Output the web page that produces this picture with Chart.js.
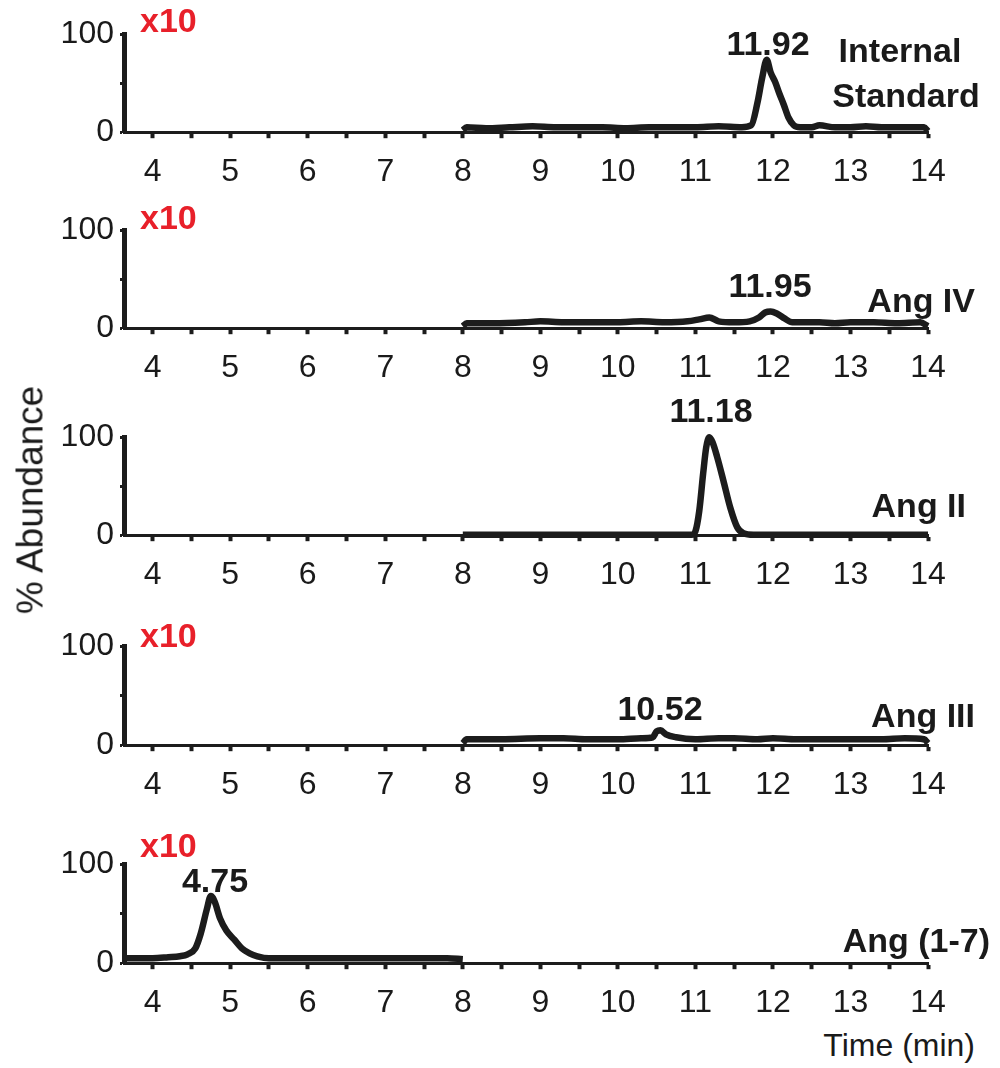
<!DOCTYPE html>
<html>
<head>
<meta charset="utf-8">
<script src="https://cdn.jsdelivr.net/npm/chart.js@4/dist/chart.umd.min.js"></script>
<style>
  html, body { margin: 0; padding: 0; background: #fff; }
  #page { position: relative; width: 1000px; height: 1068px; overflow: hidden; font-family: "Liberation Sans", Arial, sans-serif; }
  .panel { position: absolute; left: 0; width: 1000px; }
  .lbl { position: absolute; white-space: nowrap; line-height: 1; color: #1a1a1a; }
  .b { font-weight: bold; font-size: 34px; }
  .red { color: #e8202a; }
</style>
</head>
<body>
<div id="page"></div>
<script>
// ---------- data ----------
const xTickValues = [4, 4.5, 5, 5.5, 6, 6.5, 7, 7.5, 8, 8.5, 9, 9.5, 10, 10.5, 11, 11.5, 12, 12.5, 13, 13.5, 14];
const yTickValues = [0, 50, 100];
const panelNames = ['Internal\nStandard', 'Ang IV', 'Ang II', 'Ang III', 'Ang (1-7)'];
const peakLabels = ['11.92', '11.95', '11.18', '10.52', '4.75'];
const scaleLabels = ['x10', 'x10', '', 'x10', 'x10'];

// Internal Standard (x10)
const isTime = [8.0, 8.05, 8.3, 8.6, 8.9, 9.2, 9.5, 9.8, 10.1, 10.4, 10.7, 11.0, 11.3, 11.6, 11.72, 11.8, 11.86, 11.92, 11.97, 12.03, 12.08, 12.14, 12.2, 12.27, 12.35, 12.5, 12.6, 12.8, 13.0, 13.2, 13.4, 13.6, 13.8, 13.95, 14.0];
const isAbund = [2, 5, 4, 5, 6, 5, 5, 5, 4, 5, 5, 5, 6, 5, 7, 30, 55, 74, 61, 51, 40, 28, 15, 7, 5, 5, 7, 5, 5, 6, 5, 5, 5, 5, 1];

// Ang IV (x10)
const ang4Time = [8.0, 8.05, 8.4, 8.8, 9.0, 9.3, 9.6, 10.0, 10.3, 10.6, 10.9, 11.05, 11.18, 11.3, 11.5, 11.7, 11.82, 11.9, 11.97, 12.05, 12.15, 12.25, 12.4, 12.6, 12.8, 13.0, 13.3, 13.6, 13.9, 14.0];
const ang4Abund = [2, 5, 5, 6, 7, 6, 6, 6, 7, 6, 7, 9, 11, 7, 6, 7, 11, 16, 17, 15, 10, 6, 6, 6, 5, 6, 6, 5, 6, 2];

// Ang II
const ang2Time = [8.0, 10.0, 10.95, 11.0, 11.05, 11.1, 11.14, 11.18, 11.22, 11.28, 11.36, 11.45, 11.54, 11.62, 11.75, 12.5, 14.0];
const ang2Abund = [0.5, 0.5, 0.5, 4, 25, 63, 90, 100, 95, 80, 56, 28, 8, 2, 0.5, 0.5, 0.5];

// Ang III (x10)
const ang3Time = [8.0, 8.05, 8.5, 9.0, 9.3, 9.6, 10.0, 10.3, 10.45, 10.5, 10.55, 10.62, 10.75, 11.0, 11.3, 11.5, 11.8, 12.0, 12.3, 12.6, 13.0, 13.4, 13.7, 13.95, 14.0];
const ang3Abund = [2, 6, 6, 7, 7, 6, 6, 7, 8, 14, 15, 11, 8, 6, 7, 7, 6, 7, 6, 6, 6, 6, 7, 6, 2];

// Ang (1-7) (x10)
const ang17Time = [3.63, 3.8, 4.0, 4.2, 4.35, 4.45, 4.55, 4.62, 4.7, 4.75, 4.8, 4.87, 4.95, 5.05, 5.15, 5.25, 5.35, 5.5, 5.8, 6.1, 6.5, 7.0, 7.5, 7.8, 8.0];
const ang17Abund = [5, 5, 5, 6, 7, 9, 15, 30, 55, 68, 62, 45, 33, 24, 15, 10, 7, 5, 5, 5, 5, 5, 5, 5, 4];

const seriesTimes = [isTime, ang4Time, ang2Time, ang3Time, ang17Time];
const seriesAbund = [isAbund, ang4Abund, ang2Abund, ang3Abund, ang17Abund];

// ---------- layout ----------
const panelTop = [34, 230, 437, 646, 864];
const panelBottom = [132, 328, 535, 745, 963];
const X_MIN = 3.63, X_MAX = 14;
const AREA_LEFT = 124, AREA_RIGHT = 928;
const PAD_TOP = 8, XAXIS_H = 64;

const page = document.getElementById('page');
const tickFont = { family: '"Liberation Sans", Arial, sans-serif', size: 32 };

function addLabel(text, cls, left, top, align) {
  const d = document.createElement('div');
  d.className = 'lbl ' + cls;
  d.textContent = text;
  d.style.top = top + 'px';
  if (align === 'center') { d.style.left = left + 'px'; d.style.transform = 'translateX(-50%)'; d.style.textAlign = 'center'; }
  else if (align === 'right') { d.style.right = (1000 - left) + 'px'; d.style.textAlign = 'right'; }
  else { d.style.left = left + 'px'; }
  page.appendChild(d);
  return d;
}

for (let i = 0; i < 5; i++) {
  const panelH = panelBottom[i] - panelTop[i];
  const div = document.createElement('div');
  div.className = 'panel';
  div.style.top = (panelTop[i] - PAD_TOP) + 'px';
  div.style.height = (panelH + PAD_TOP + XAXIS_H) + 'px';
  const cv = document.createElement('canvas');
  div.appendChild(cv);
  page.appendChild(div);

  const pts = seriesTimes[i].map((t, k) => ({ x: t, y: seriesAbund[i][k] }));

  const chart = new Chart(cv, {
    type: 'line',
    data: { datasets: [{
      data: pts,
      borderColor: '#1c1c1c',
      borderWidth: 6.5,
      pointRadius: 0,
      cubicInterpolationMode: 'monotone',
      borderJoinStyle: 'round',
      clip: false
    }] },
    options: {
      responsive: true,
      maintainAspectRatio: false,
      animation: false,
      layout: { padding: { left: 0, right: 1000 - AREA_RIGHT, top: PAD_TOP, bottom: 0 } },
      plugins: { legend: { display: false }, tooltip: { enabled: false } },
      scales: {
        x: {
          type: 'linear', min: X_MIN, max: X_MAX,
          afterFit: (s) => { s.height = XAXIS_H; },
          afterBuildTicks: (s) => { s.ticks = xTickValues.map(v => ({ value: v })); },
          border: { display: true, color: '#1c1c1c', width: 3, dash: [6, 2] },
          grid: { drawOnChartArea: false, drawTicks: true, tickLength: 6, tickWidth: 4, tickColor: '#1c1c1c', color: '#1c1c1c' },
          ticks: {
            autoSkip: false, maxRotation: 0, padding: 15, color: '#1a1a1a', font: tickFont,
            callback: (v) => Number.isInteger(v) ? String(v) : ''
          }
        },
        y: {
          type: 'linear', min: 0, max: 100,
          afterFit: (s) => { s.width = AREA_LEFT; },
          afterBuildTicks: (s) => { s.ticks = yTickValues.map(v => ({ value: v })); },
          border: { display: true, color: '#1c1c1c', width: 5 },
          grid: { drawOnChartArea: false, drawTicks: true, tickLength: 4, tickWidth: 3, tickColor: '#1c1c1c', color: '#1c1c1c' },
          ticks: {
            autoSkip: false, padding: 6, color: '#1a1a1a', font: tickFont,
            callback: (v) => (v === 50 ? '' : String(v))
          }
        }
      }
    }
  });

  // align the library's computed chart area to the target panel box
  const t0 = chart.chartArea.top;
  div.style.top = (panelTop[i] - t0) + 'px';
  div.style.height = (t0 + panelH + XAXIS_H) + 'px';
  chart.resize();
}

// ---------- annotations ----------
const scaleLabelTop = [3, 200, 0, 618, 828];
scaleLabels.forEach((t, i) => { if (t) addLabel(t, 'b red', 140, scaleLabelTop[i], 'left'); });

const peakX = [768, 770, 711, 660, 215];
const peakTop = [26, 268, 393, 691, 863];
peakLabels.forEach((t, i) => addLabel(t, 'b', peakX[i], peakTop[i], 'center'));

// series names
addLabel('Internal', 'b', 900, 33, 'center');
addLabel('Standard', 'b', 906, 78, 'center');
const nameRight = [0, 975, 966, 975, 990];
const nameTop = [0, 283, 488, 698, 923];
for (let i = 1; i < 5; i++) addLabel(panelNames[i], 'b', nameRight[i], nameTop[i], 'right');

// axis titles
const yt = addLabel('% Abundance', '', 30, 500, 'left');
yt.style.fontSize = '37px';
yt.style.transform = 'translate(-50%, -50%) rotate(-90deg)';
const xt = addLabel('Time (min)', '', 975, 1029, 'right');
xt.style.fontSize = '32px';
</script>
</body>
</html>
